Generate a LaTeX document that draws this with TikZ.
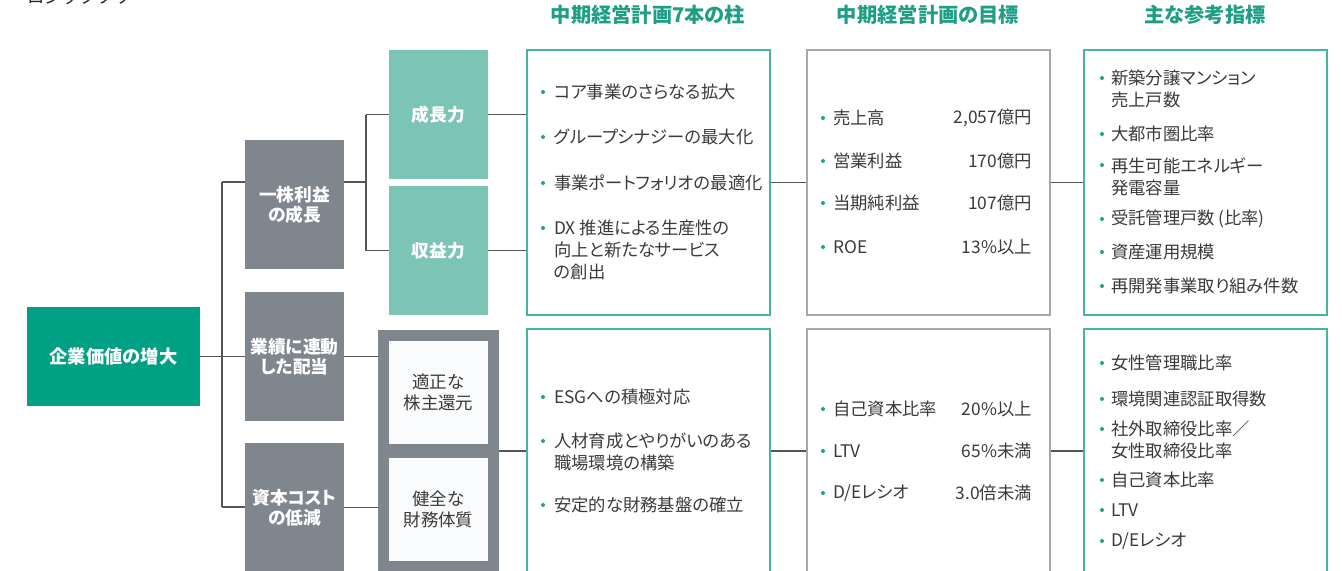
\documentclass[tikz,border=0pt]{standalone}
\usepackage{fontspec}
\setmainfont{Noto Sans CJK JP}[RawFeature=+palt]
\newfontfamily\plainjp{Noto Sans CJK JP}
\usetikzlibrary{calc}
\definecolor{darkteal}{HTML}{00A085}
\definecolor{lightteal}{HTML}{7CC4B5}
\definecolor{boxgray}{HTML}{80868D}
\definecolor{headgreen}{HTML}{1E9E84}
\definecolor{tealborder}{HTML}{45B6A1}
\definecolor{grayborder}{HTML}{A8A8A8}
\definecolor{txt}{HTML}{3A3A3A}
\definecolor{bulletc}{HTML}{1AA58B}
\definecolor{linec}{HTML}{555555}
\definecolor{offwhite}{HTML}{FAFBFC}
\newcommand\myitem[6]{%
  \fill[bulletc] (#2,#4) circle (1.5pt);
  \node[item, anchor=west] (#1) at (#3,#5) {#6};
}
\begin{document}
\begin{tikzpicture}[x=0.75pt,y=-0.75pt,
  blk/.style={inner sep=0, minimum width={99*0.75pt}, font=\fontsize{13.3pt}{15pt}\selectfont\bfseries, text=white, align=center},
  gbox/.style={blk, fill=boxgray},
  lbox/.style={blk, fill=lightteal},
  wbox/.style={blk, fill=offwhite, text=txt, font=\fontsize{13.1pt}{15.5pt}\selectfont},
  panel/.style={inner sep=0, line width=1.5pt, minimum width={243*0.75pt}},
  tpanel/.style={panel, draw=tealborder},
  gpanel/.style={panel, draw=grayborder},
  item/.style={inner sep=0, text=txt, align=left, font=\fontsize{13pt}{16.5pt}\selectfont},
  head/.style={inner sep=0, text=headgreen, font=\fontsize{15.2pt}{18pt}\selectfont\bfseries},
  conn/.style={draw=linec, line width=1pt}]
\useasboundingbox (0,0) rectangle (1342,571);
\clip (0,0) rectangle (1342,571);

% clipped title
\node[inner sep=0, anchor=base west, text=black!85, font=\fontsize{13pt}{15pt}\selectfont\plainjp] (title) at (27,3) {ロジックツリー};

% headers
\node[head] (h1) at (648,15) {中期経営計画7本の柱};
\node[head] (h2) at (928,15) {中期経営計画の目標};
\node[head] (h3) at (1205,15) {主な参考指標};

% left tree
\node[blk, fill=darkteal, minimum width={173*0.75pt}, minimum height={99*0.75pt}, font=\fontsize{13.7pt}{16pt}\selectfont\bfseries] (val) at (113.5,356.5) {企業価値の増大};
\node[gbox, minimum height={129*0.75pt}] (eps) at (294.5,204.5) {一株利益\\の成長};
\node[gbox, minimum height={129*0.75pt}] (div) at (294.5,356.5) {業績に連動\\した配当};
\node[gbox, minimum height={129*0.75pt}] (coc) at (294.5,507.5) {資本コスト\\の低減};
\node[lbox, minimum height={129*0.75pt}] (grow) at (438.5,114.5) {成長力};
\node[lbox, minimum height={129*0.75pt}] (prof) at (438.5,250.5) {収益力};
\node[inner sep=0, fill=boxgray, minimum width={121*0.75pt}, minimum height={242*0.75pt}] (frame) at (438.5,451) {};
\node[wbox, minimum height={103*0.75pt}] (ret) at (438.5,392.5) {適正な\\株主還元};
\node[wbox, minimum height={103*0.75pt}] (fin) at (438.5,509.5) {健全な\\財務体質};

% panels
\node[tpanel, minimum height={265*0.75pt}] (p1) at (648.5,182.5) {};
\node[tpanel, minimum height={244*0.75pt}] (p2) at (648.5,451) {};
\node[gpanel, minimum height={265*0.75pt}] (t1) at (928,182.5) {};
\node[gpanel, minimum height={244*0.75pt}] (t2) at (928,451) {};
\node[tpanel, minimum height={265*0.75pt}] (r1) at (1205.5,182.5) {};
\node[tpanel, minimum height={244*0.75pt}] (r2) at (1205.5,451) {};

% connectors
\coordinate (j1) at (222,182);
\coordinate (j2) at (222,507);
\coordinate (k1) at (366,182);
\draw[conn] (val.east) -- (div.west);
\draw[conn] (j1) -- (j2);
\draw[conn] (j1) -- (j1 -| eps.west);
\draw[conn] (j2) -- (j2 -| coc.west);
\draw[conn] (k1 -| eps.east) -- (k1);
\draw[conn] (k1 |- grow.west) -- (k1 |- prof.west);
\draw[conn] (k1 |- grow.west) -- (grow.west);
\draw[conn] (k1 |- prof.west) -- (prof.west);
\draw[conn] (grow.east) -- (grow.east -| p1.west);
\draw[conn] (prof.east) -- (prof.east -| p1.west);
\draw[conn] (div.east) -- (div.east -| frame.west);
\draw[conn] (coc.east) -- (coc.east -| frame.west);
\draw[conn] (frame.east) -- (frame.east -| p2.west);
\draw[conn] (p1.east) -- (t1.west);
\draw[conn] (p2.east) -- (t2.west);
\draw[conn] (t1.east) -- (r1.west);
\draw[conn] (t2.east) -- (r2.west);

% pillars
\myitem{a1}{543}{554}{92}{92}{コア事業のさらなる拡大}
\myitem{a2}{543}{554}{137}{137}{グループシナジーの最大化}
\myitem{a3}{543}{554}{183}{183}{事業ポートフォリオの最適化}
\myitem{a4}{543}{554}{228}{250}{DX 推進による生産性の\\向上と新たなサービス\\の創出}
\myitem{b1}{543}{554}{397}{397}{ESGへの積極対応}
\myitem{b2}{543}{554}{441}{452}{人材育成とやりがいのある\\職場環境の構築}
\myitem{b3}{543}{554}{505}{505}{安定的な財務基盤の確立}

% targets
\myitem{c1}{823}{833}{118}{118}{売上高}
\myitem{c2}{823}{833}{161}{161}{営業利益}
\myitem{c3}{823}{833}{203}{203}{当期純利益}
\myitem{c4}{823}{833}{247}{247}{ROE}
\node[item, anchor=east] (v1) at (1032,118) {2,057億円};
\node[item, anchor=east] (v2) at (1032,161) {170億円};
\node[item, anchor=east] (v3) at (1032,203) {107億円};
\node[item, anchor=east] (v4) at (1032,247) {13\%以上};
\myitem{d1}{823}{833}{409}{409}{自己資本比率}
\myitem{d2}{823}{833}{451}{451}{LTV}
\myitem{d3}{823}{833}{493}{493}{D/Eレシオ}
\node[item, anchor=east] (w1) at (1032,409) {20\%以上};
\node[item, anchor=east] (w2) at (1032,451) {65\%未満};
\node[item, anchor=east] (w3) at (1032,493) {3.0倍未満};

% reference indicators
\myitem{e1}{1102}{1111}{78}{89}{新築分譲マンション\\売上戸数}
\myitem{e2}{1102}{1111}{134}{134}{大都市圏比率}
\myitem{e3}{1102}{1111}{165}{176.5}{再生可能エネルギー\\発電容量}
\myitem{e4}{1102}{1111}{219}{219}{受託管理戸数\,(比率)}
\myitem{e5}{1102}{1111}{252}{252}{資産運用規模}
\myitem{e6}{1102}{1111}{286}{286}{再開発事業取り組み件数}
\myitem{f1}{1102}{1111}{363}{363}{女性管理職比率}
\myitem{f2}{1102}{1111}{399}{399}{環境関連認証取得数}
\myitem{f3}{1102}{1111}{429}{439.5}{社外取締役比率／\\女性取締役比率}
\myitem{f4}{1102}{1111}{480}{480}{自己資本比率}
\myitem{f5}{1102}{1111}{510}{510}{LTV}
\myitem{f6}{1102}{1111}{541}{541}{D/Eレシオ}
\end{tikzpicture}
\end{document}
